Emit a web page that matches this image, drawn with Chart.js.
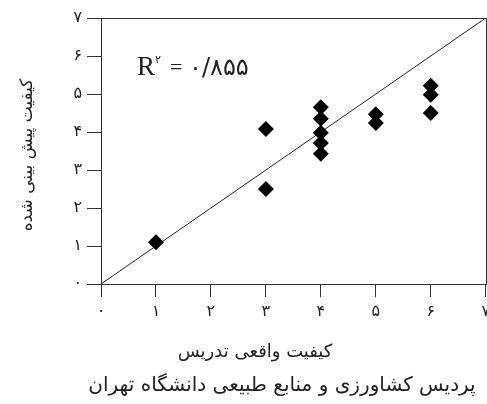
<!DOCTYPE html>
<html lang="fa">
<head>
<meta charset="utf-8">
<script src="https://cdn.jsdelivr.net/npm/chart.js@4/dist/chart.umd.min.js"></script>
<style>
  html, body { margin: 0; padding: 0; background: #fff; overflow: hidden; }
  #wrap { width: 495px; height: 404px; }
</style>
</head>
<body>
<div id="wrap"><canvas id="c"></canvas></div>
<script>
// Actual teaching quality (x) vs. predicted quality (y)
const actualQuality    = [1,   3,    3,   4,    4,    4,    4,    4,    5,    5,    6,    6,    6];
const predictedQuality = [1.1, 4.08, 2.5, 4.65, 4.35, 3.98, 3.71, 3.43, 4.47, 4.24, 5.22, 4.98, 4.5];
// y = x reference line
const refLineX = [0, 7];
const refLineY = [0, 7];
const axisTicks = [0, 1, 2, 3, 4, 5, 6, 7];
const rSquared = '۰/۸۵۵';

const xTitle = 'کیفیت واقعی تدریس';
const yTitle = 'کیفیت پیش بینی شده';
const caption = 'پردیس کشاورزی و منابع طبیعی دانشگاه تهران';

const faDigits = '۰۱۲۳۴۵۶۷۸۹';
const toFa = v => String(v).replace(/\d/g, d => faDigits[+d]);

const FA_FONT = '"DejaVu Sans", sans-serif';
const INK = '#222';

const points = actualQuality.map((x, i) => ({ x, y: predictedQuality[i] }));
const refLine = refLineX.map((x, i) => ({ x, y: refLineY[i] }));

const annotations = {
  id: 'annotations',
  afterDraw(chart) {
    const { ctx, chartArea: a } = chart;
    ctx.save();
    // frame around the plot area
    ctx.strokeStyle = '#333';
    ctx.lineWidth = 1;
    ctx.strokeRect(Math.round(a.left) + 0.5, Math.round(a.top) + 0.5,
                   Math.round(a.right - a.left), Math.round(a.bottom - a.top));

    ctx.fillStyle = INK;
    // R² label
    ctx.textBaseline = 'alphabetic';
    ctx.textAlign = 'left';
    ctx.direction = 'ltr';
    let x = a.left + 36, y = 75;
    ctx.font = '27px "Liberation Serif", serif';
    ctx.fillText('R', x, y);
    x += ctx.measureText('R').width;
    ctx.font = '11px ' + FA_FONT;
    ctx.fillText('۲', x, y - 12);
    x += 15;
    ctx.font = '22px "Liberation Serif", serif';
    ctx.fillText('=', x, y - 1);
    x += 19;
    ctx.font = '24px ' + FA_FONT;
    ctx.fillText(rSquared, x, y);

    // axis titles and caption
    ctx.textAlign = 'center';
    ctx.textBaseline = 'middle';
    ctx.font = '18px ' + FA_FONT;
    ctx.fillText(xTitle, 255, 352);
    ctx.font = '20px ' + FA_FONT;
    ctx.fillText(caption, 282, 386);

    ctx.font = '17px ' + FA_FONT;
    ctx.translate(28, 155);
    ctx.rotate(-Math.PI / 2);
    ctx.fillText(yTitle, 0, 0);
    ctx.restore();
  }
};

new Chart(document.getElementById('c'), {
  type: 'scatter',
  data: {
    datasets: [
      {
        data: points,
        pointStyle: 'rectRot',
        pointRadius: 8,
        pointHoverRadius: 8,
        backgroundColor: '#000',
        borderColor: '#000',
        borderWidth: 0,
        order: 1
      },
      {
        type: 'line',
        data: refLine,
        borderColor: '#222',
        borderWidth: 1,
        pointRadius: 0,
        fill: false,
        order: 2
      }
    ]
  },
  options: {
    responsive: true,
    maintainAspectRatio: false,
    animation: false,
    events: [],
    layout: { padding: { top: 18, right: 9, left: 0, bottom: 0 } },
    plugins: { legend: { display: false }, tooltip: { enabled: false } },
    scales: {
      x: {
        type: 'linear',
        min: 0, max: 7,
        afterBuildTicks: s => { s.ticks = axisTicks.map(v => ({ value: v })); },
        afterFit: s => { s.height = 120; },
        ticks: {
          callback: v => toFa(v),
          color: INK,
          font: { family: FA_FONT, size: 16 },
          padding: 5,
          maxRotation: 0
        },
        grid: { drawOnChartArea: false, drawTicks: true, tickLength: 13, tickColor: '#333' },
        border: { display: true, color: '#333', width: 1 }
      },
      y: {
        type: 'linear',
        min: 0, max: 7,
        afterBuildTicks: s => { s.ticks = axisTicks.map(v => ({ value: v })); },
        afterFit: s => { s.width = 101; },
        ticks: {
          callback: v => toFa(v),
          color: INK,
          font: { family: FA_FONT, size: 16 },
          padding: 5
        },
        grid: { drawOnChartArea: false, drawTicks: true, tickLength: 14, tickColor: '#333' },
        border: { display: true, color: '#333', width: 1 }
      }
    }
  },
  plugins: [annotations]
});
</script>
</body>
</html>
